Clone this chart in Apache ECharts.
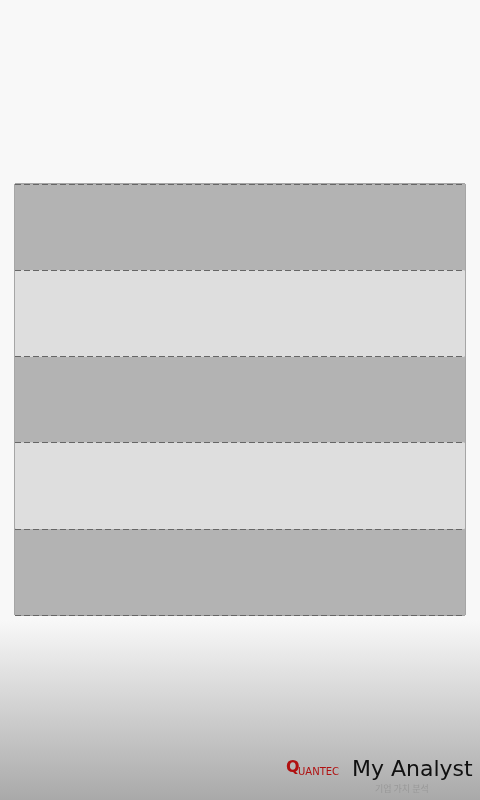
<!DOCTYPE html>
<html>
<head>
<meta charset="utf-8">
<script src="https://cdn.jsdelivr.net/npm/echarts@6/dist/echarts.min.js"></script>
<style>
html, body { margin: 0; padding: 0; }
body { background: linear-gradient(to bottom, #f8f8f8 0px, #f8f8f8 620px, #a9a9a9 800px); }
#chart { width: 480px; height: 800px; }
</style>
</head>
<body>
<div id="chart"></div>
<script>
var categories = [];
var values = [];
var yTicks = [0, 1, 2, 3, 4, 5];

var myChart = echarts.init(document.getElementById('chart'));

var option = {
  backgroundColor: 'transparent',
  animation: false,
  grid: { left: 15, right: 15, top: 184, bottom: 185, show: true, borderColor: '#555', borderWidth: 1 },
  xAxis: {
    type: 'category',
    data: categories,
    axisLine: { show: false },
    axisTick: { show: false },
    axisLabel: { show: false },
    splitLine: { show: false }
  },
  yAxis: {
    type: 'value',
    min: yTicks[0],
    max: yTicks[yTicks.length - 1],
    interval: 1,
    axisLine: { show: false },
    axisTick: { show: false },
    axisLabel: { show: false },
    splitLine: { show: true, lineStyle: { color: '#666', type: [6, 3], width: 1 } },
    splitArea: { show: true, areaStyle: { color: ['#b3b3b3', '#dedede'] } }
  },
  series: [{ type: 'bar', data: values }],
  graphic: [
    { type: 'text', left: 286, top: 760, style: { text: 'Q', fill: '#b01010', font: 'bold 16px "DejaVu Sans"' } },
    { type: 'text', left: 298, top: 767, style: { text: 'UANTEC', fill: '#b01010', font: '10px "DejaVu Sans"' } },
    { type: 'text', left: 352, top: 759, style: { text: 'My Analyst', fill: '#111', font: '22px "DejaVu Sans"' } },
    { type: 'text', left: 375, top: 784, style: { text: '기업 가치 분석', fill: '#999', font: '9px "Noto Sans CJK KR"' } }
  ]
};

myChart.setOption(option);
</script>
</body>
</html>
